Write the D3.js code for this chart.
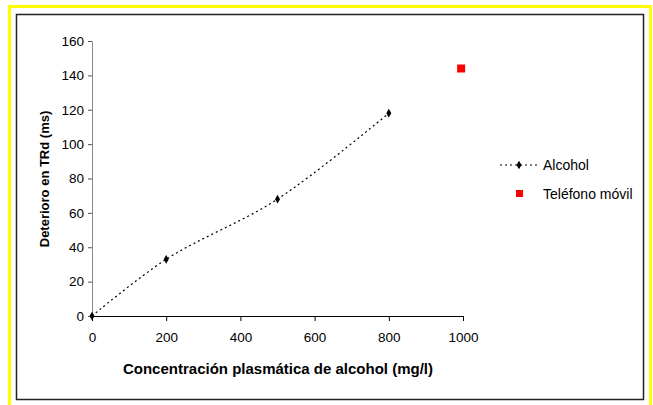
<!DOCTYPE html>
<html>
<head>
<meta charset="utf-8">
<script src="https://cdn.jsdelivr.net/npm/d3@7"></script>
<style>
	body { margin: 0; background: #fff; }
	svg { display: block; font-family: "Liberation Sans", Arial, sans-serif; }
</style>
</head>
<body>
<script>
"use strict";

// values
const alcoholDose = [0, 200, 500, 800];
const alcoholDelay = [0, 33, 68, 118];
const phoneDose = [995];
const phoneDelay = [144];
const xTicks = [0, 200, 400, 600, 800, 1000];
const yTicks = [0, 20, 40, 60, 80, 100, 120, 140, 160];
const seriesNames = ["Alcohol", "Teléfono móvil"];

const w = 653, h = 405;
const margin = { top: 41, left: 92, right: 190, bottom: 89 };

const svg = d3.select("body")
	.append("svg")
	.attr("width", w)
	.attr("height", h);

// outer frames
svg.append("rect")
	.attr("x", 9.5).attr("y", 6.5)
	.attr("width", 641).attr("height", 410)
	.attr("fill", "none")
	.attr("stroke", "#ffff00")
	.attr("stroke-width", 3);
svg.append("rect")
	.attr("x", 16.5).attr("y", 14.5)
	.attr("width", 627).attr("height", 385)
	.attr("fill", "none")
	.attr("stroke", "#222")
	.attr("stroke-width", 1.5);

const x = d3.scaleLinear().domain([0, 1000]).range([margin.left, 463]);
const y = d3.scaleLinear().domain([0, 160]).range([316, margin.top]);

const xAxis = d3.axisBottom(x).tickValues(xTicks).tickFormat(d3.format("d"))
	.tickSize(5).tickSizeOuter(0).tickPadding(11);
const yAxis = d3.axisLeft(y).tickValues(yTicks).tickSize(4).tickSizeOuter(0).tickPadding(4);

const gx = svg.append("g")
	.attr("transform", `translate(0,${y(0)})`)
	.call(xAxis);
gx.select(".domain").attr("stroke", "#000");
gx.selectAll("line").attr("stroke", "#000");
gx.selectAll("text").attr("font-size", 13.5).attr("fill", "#000");

const gy = svg.append("g")
	.attr("transform", `translate(${x(0)},0)`)
	.call(yAxis);
gy.select(".domain").attr("stroke", "#888");
gy.selectAll("line").attr("stroke", "#555");
gy.selectAll("text").attr("font-size", 13.5).attr("fill", "#000");

// axis titles
svg.append("text")
	.attr("x", 278).attr("y", 374)
	.attr("text-anchor", "middle")
	.attr("font-size", 15).attr("font-weight", "bold")
	.text("Concentración plasmática de alcohol (mg/l)");
svg.append("text")
	.attr("transform", "translate(49,179) rotate(-90)")
	.attr("text-anchor", "middle")
	.attr("font-size", 13).attr("font-weight", "bold")
	.text("Deterioro en TRd (ms)");

// alcohol series
const alcohol = alcoholDose.map((d, i) => ({ dose: d, delay: alcoholDelay[i] }));
const line = d3.line()
	.x(d => x(d.dose))
	.y(d => y(d.delay))
	.curve(d3.curveCatmullRom.alpha(0.5));

svg.append("path")
	.datum(alcohol)
	.attr("d", line)
	.attr("fill", "none")
	.attr("stroke", "#000")
	.attr("stroke-width", 1.2)
	.attr("stroke-dasharray", "2,3");

const diamond = d3.symbol().type(d3.symbolDiamond).size(22);
svg.selectAll(".alc")
	.data(alcohol)
	.join("path")
	.attr("class", "alc")
	.attr("transform", d => `translate(${x(d.dose)},${y(d.delay)})`)
	.attr("d", diamond)
	.attr("fill", "#000");

// phone series
const phone = phoneDose.map((d, i) => ({ dose: d, delay: phoneDelay[i] }));
svg.selectAll(".phone")
	.data(phone)
	.join("rect")
	.attr("class", "phone")
	.attr("x", d => x(d.dose) - 4)
	.attr("y", d => y(d.delay) - 4)
	.attr("width", 8).attr("height", 8)
	.attr("fill", "#ff0000");

// legend
const legend = svg.append("g").attr("transform", "translate(500,165)");
legend.append("line")
	.attr("x1", 0).attr("x2", 40)
	.attr("stroke", "#000")
	.attr("stroke-width", 1.2)
	.attr("stroke-dasharray", "2,3");
legend.append("path")
	.attr("transform", "translate(19,0)")
	.attr("d", diamond)
	.attr("fill", "#000");
legend.append("rect")
	.attr("x", 16).attr("y", 25)
	.attr("width", 7).attr("height", 7)
	.attr("fill", "#ff0000");
legend.selectAll("text")
	.data(seriesNames)
	.join("text")
	.attr("x", 43)
	.attr("y", (d, i) => i * 29 + 5)
	.attr("font-size", 14)
	.text(d => d);
</script>
</body>
</html>
